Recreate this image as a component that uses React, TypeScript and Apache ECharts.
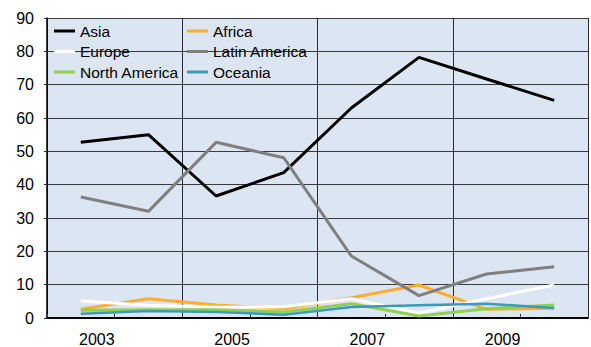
import React, { useEffect, useRef } from "react";
import * as echarts from "echarts";

const yearLabels = ["2003", "2005", "2007", "2009"];
const xPositions = [0.5, 1.5, 2.5, 3.5, 4.5, 5.5, 6.5, 7.5];

const asia = [52.7, 55.0, 36.6, 43.6, 63.0, 78.2, 71.7, 65.3];
const africa = [2.6, 5.8, 3.9, 2.8, 6.1, 9.9, 2.6, 2.9];
const europe = [5.1, 3.8, 3.2, 3.4, 5.8, 1.4, 5.8, 9.9];
const latinAmerica = [36.3, 32.0, 52.7, 48.1, 18.6, 6.7, 13.2, 15.4];
const northAmerica = [2.3, 2.5, 2.5, 1.8, 4.3, 0.6, 2.8, 3.9];
const oceania = [1.3, 2.1, 1.8, 1.0, 3.3, 3.8, 4.3, 3.0];

const seriesDefs = [
  { name: "Asia", data: asia, color: "#000000", width: 3 },
  { name: "Africa", data: africa, color: "#ffad2f", width: 3 },
  { name: "Europe", data: europe, color: "#ffffff", width: 3 },
  { name: "Latin America", data: latinAmerica, color: "#7f7f7f", width: 3 },
  { name: "North America", data: northAmerica, color: "#8fd14f", width: 3 },
  { name: "Oceania", data: oceania, color: "#3a9bb6", width: 2.5 },
];

const FONT = "'Liberation Sans', Arial, sans-serif";

export default function App() {
  const ref = useRef<HTMLDivElement>(null);
  useEffect(() => {
    if (!ref.current) return;
    const chart = echarts.init(ref.current, undefined, { renderer: "svg" });
    const legendText = {
      fontSize: 15.5,
      fontFamily: FONT,
      color: "#000",
      lineHeight: 20,
    };
    chart.setOption({
      animation: false,
      textStyle: { fontFamily: FONT },
      grid: {
        left: 47,
        top: 18,
        right: 0,
        bottom: 29,
        show: true,
        backgroundColor: "#dce6f2",
        borderWidth: 0,
      },
      legend: [
        {
          orient: "vertical",
          left: 49,
          top: 16,
          data: ["Asia", "Europe", "North America"],
          icon: "rect",
          itemWidth: 21,
          itemHeight: 3,
          itemGap: 0.5,
          textStyle: legendText,
        },
        {
          orient: "vertical",
          left: 182,
          top: 16,
          data: ["Africa", "Latin America", "Oceania"],
          icon: "rect",
          itemWidth: 21,
          itemHeight: 3,
          itemGap: 0.5,
          textStyle: legendText,
        },
      ],
      xAxis: [
        {
          type: "value",
          min: 0,
          max: 8,
          interval: 1,
          position: "bottom",
          axisLine: { show: true, lineStyle: { color: "#000", width: 2 } },
          axisTick: { show: true, inside: true, length: 4, lineStyle: { color: "#333" } },
          splitLine: { show: false },
          axisLabel: {
            fontSize: 16,
            color: "#000",
            fontFamily: FONT,
            margin: 13,
            align: "right",
            showMinLabel: true,
            showMaxLabel: true,
            formatter: (v: number) =>
              v % 2 === 1 ? yearLabels[(v - 1) / 2] : "",
          },
        },
        {
          type: "value",
          min: 0,
          max: 8,
          interval: 2,
          position: "top",
          axisLine: { show: false },
          axisTick: { show: false },
          axisLabel: { show: false },
          splitLine: { show: true, lineStyle: { color: "#2a2a2a", width: 1 } },
        },
      ],
      yAxis: {
        type: "value",
        min: 0,
        max: 90,
        interval: 10,
        axisLine: { show: true, lineStyle: { color: "#000", width: 1.5 } },
        axisTick: { show: true, length: 3, lineStyle: { color: "#333" } },
        splitLine: { show: true, lineStyle: { color: "#3a3a3a", width: 1 } },
        axisLabel: {
          fontSize: 16,
          color: "#000",
          fontFamily: FONT,
          margin: 13,
        },
      },
      series: seriesDefs.map((s) => ({
        name: s.name,
        type: "line",
        xAxisIndex: 0,
        showSymbol: false,
        symbol: "none",
        color: s.color,
        lineStyle: { color: s.color, width: s.width },
        data: s.data.map((v, i) => [xPositions[i], v]),
      })),
    });
    return () => chart.dispose();
  }, []);
  return (
    <div
      ref={ref}
      style={{ position: "absolute", left: 0, top: 0, width: 591, height: 347 }}
    />
  );
}
